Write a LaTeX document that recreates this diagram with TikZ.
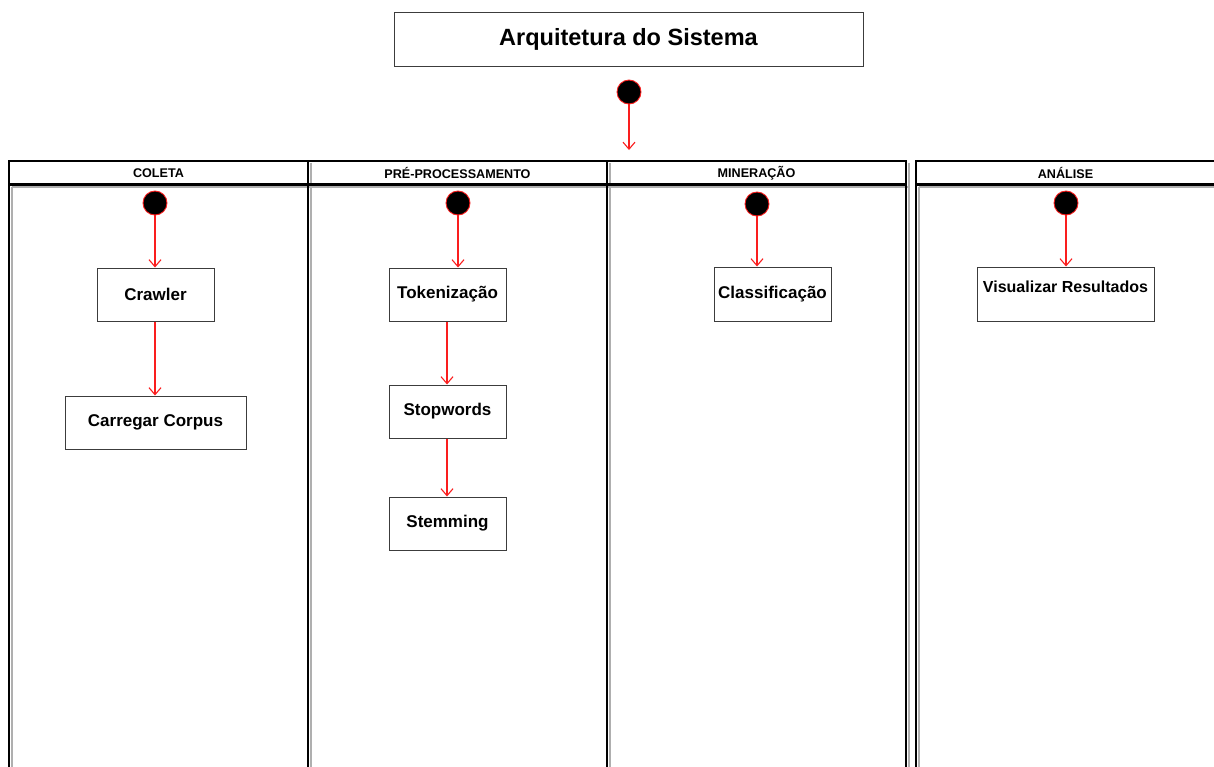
\documentclass[tikz,border=0pt]{standalone}
\usepackage{fontspec}
\setmainfont{Liberation Sans}
\usetikzlibrary{arrows.meta}
\definecolor{flowred}{RGB}{250,30,30}
\definecolor{boxline}{RGB}{60,60,60}
\definecolor{shadowgray}{RGB}{175,175,175}
\tikzset{
  box/.style={draw=boxline, line width=1pt, fill=white, inner sep=0pt,
    font=\fontsize{17}{20}\selectfont\bfseries},
  startdot/.style={circle, fill=black, draw=flowred, line width=0.9pt,
    minimum size=24pt, inner sep=0pt},
  flow/.style={draw=flowred, line width=1.1pt,
    -{Straight Barb[length=7pt,width=12pt,line width=1.1pt]}},
  laneline/.style={line width=2.4pt, black},
  laneshadow/.style={line width=2pt, shadowgray},
  lanehead/.style={font=\fontsize{12.6}{14}\selectfont\bfseries, inner sep=0pt}
}
\begin{document}
\begin{tikzpicture}[x=1pt, y=-1pt]
\useasboundingbox (0,0) rectangle (1214,766);
\clip (0,0) rectangle (1214,766);
\fill[white] (0,0) rectangle (1214,766);

% swimlane shadows
\foreach \a/\b in {9/308, 308/607, 607/906, 916/1215}{
  \draw[laneshadow] (\a+2.6,186.6) -- (\a+2.6,800);
  \draw[laneshadow] (\b+2.6,162.6) -- (\b+2.6,800);
  \draw[laneshadow] (\a+2.6,186.6) -- (\b+2.6,186.6);
}
% swimlane borders
\foreach \a/\b in {9/308, 308/607, 607/906, 916/1215}{
  \draw[laneline] (\a,800) -- (\a,161) -- (\b,161) -- (\b,800);
  \draw[laneline] (\a,184.5) -- (\b,184.5);
}

% lane headers
\node[lanehead] (h1) at (158.5,173) {COLETA};
\node[lanehead] (h2) at (457.5,173) {PRÉ-PROCESSAMENTO};
\node[lanehead] (h3) at (756.5,173) {MINERAÇÃO};
\node[lanehead] (h4) at (1065.5,173) {ANÁLISE};

% title
\node[box, minimum width=469pt, minimum height=54pt,
      font=\fontsize{23.5}{26}\selectfont\bfseries] (title) at (628.5,39.5) {Arquitetura do Sistema};
\node[startdot] (s0) at (629,92) {};
\coordinate (s0end) at (629,150);
\draw[flow] (s0) -- (s0end);

% start dots in lanes
\node[startdot] (s1) at (155,203) {};
\node[startdot] (s2) at (458,203) {};
\node[startdot] (s3) at (757,204) {};
\node[startdot] (s4) at (1066,203) {};

% activity boxes
\node[box, minimum width=117pt, minimum height=53pt] (crawler) at (155.5,294.5) {Crawler};
\node[box, minimum width=181pt, minimum height=53pt] (corpus) at (155.5,422.5) {Carregar Corpus};
\node[box, minimum width=117pt, minimum height=53pt] (tok) at (447.5,294.5) {Tokenização};
\node[box, minimum width=117pt, minimum height=53pt] (stop) at (447.5,411.5) {Stopwords};
\node[box, minimum width=117pt, minimum height=53pt] (stem) at (447.5,523.5) {Stemming};
\node[box, minimum width=117pt, minimum height=54pt] (clas) at (772.5,294) {Classificação};
\node[box, minimum width=177pt, minimum height=54pt, text height=11.5pt, text depth=15.5pt,
      font=\fontsize{16}{19}\selectfont\bfseries] (vis) at (1065.5,294) {Visualizar Resultados};

% connectors
\draw[flow] (s1.south) -- (s1.south |- crawler.north);
\draw[flow] ([xshift=-0.5pt]crawler.south) -- ([xshift=-0.5pt]crawler.south |- corpus.north);
\draw[flow] (s2.south) -- (s2.south |- tok.north);
\draw[flow] ([xshift=-0.5pt]tok.south) -- ([xshift=-0.5pt]tok.south |- stop.north);
\draw[flow] ([xshift=-0.5pt]stop.south) -- ([xshift=-0.5pt]stop.south |- stem.north);
\draw[flow] (s3.south) -- (s3.south |- clas.north);
\draw[flow] (s4.south) -- (s4.south |- vis.north);
\end{tikzpicture}
\end{document}
